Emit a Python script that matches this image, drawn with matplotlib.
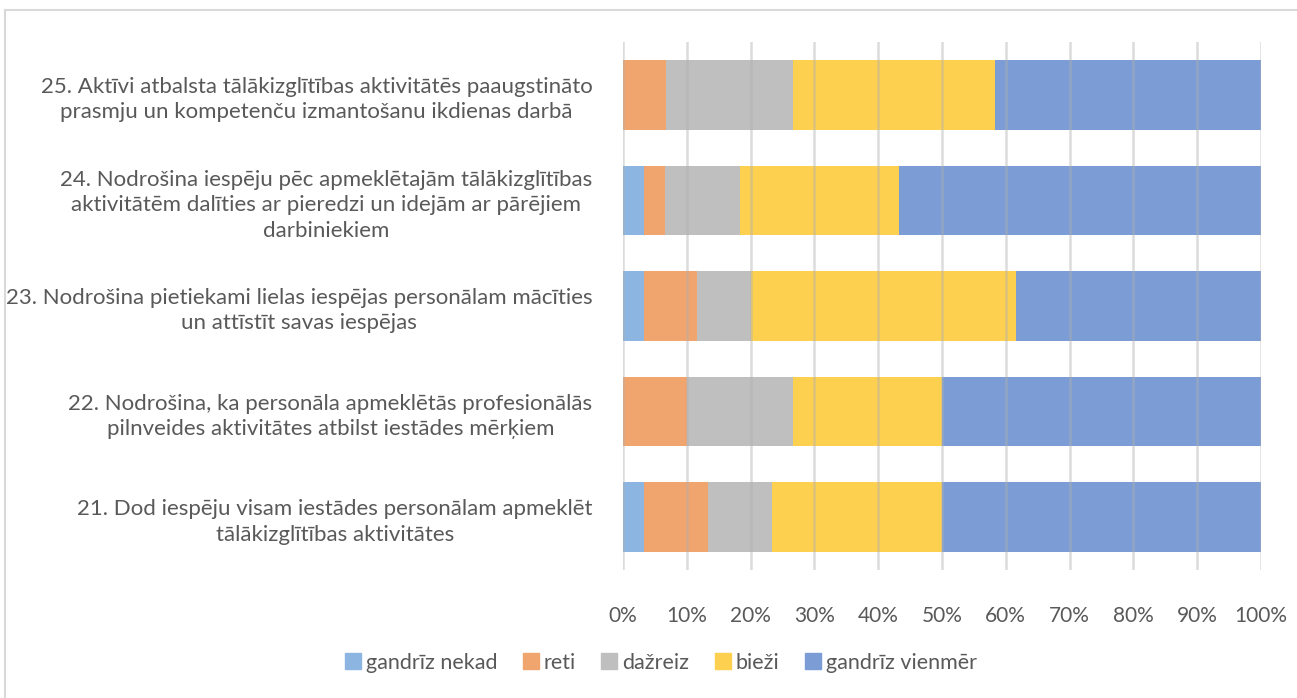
import matplotlib.pyplot as plt
import matplotlib as mpl
from matplotlib.lines import Line2D

mpl.rcParams['font.family'] = ['Lato', 'DejaVu Sans']

# data (share of answers, %)
questions = ['21. Dod iespēju visam iestādes personālam apmeklēt\ntālākizglītības aktivitātes',
             '22. Nodrošina, ka personāla apmeklētās profesionālās\npilnveides aktivitātes atbilst iestādes mērķiem',
             '23. Nodrošina pietiekami lielas iespējas personālam mācīties\nun attīstīt savas iespējas',
             '24. Nodrošina iespēju pēc apmeklētajām tālākizglītības\naktivitātēm dalīties ar pieredzi un idejām ar pārējiem\ndarbiniekiem',
             '25. Aktīvi atbalsta tālākizglītības aktivitātēs paaugstināto\nprasmju un kompetenču izmantošanu ikdienas darbā']
series = ['gandrīz nekad', 'reti', 'dažreiz', 'bieži', 'gandrīz vienmēr']
nekad = [3.33, 0, 3.33, 3.33, 0]
reti = [10.0, 10.0, 8.33, 3.33, 6.67]
dazreiz = [10.0, 16.67, 8.33, 11.67, 20.0]
biezi = [26.67, 23.33, 41.67, 25.0, 31.67]
vienmer = [50.0, 50.0, 38.33, 56.67, 41.67]
colors = ['#8DB5E2', '#F0A46E', '#BFBFBF', '#FDD14F', '#7B9CD4']

fig = plt.figure(figsize=(12.97, 6.98), dpi=100)
ax = fig.add_axes([623 / 1297, 1 - 570 / 698, 638 / 1297, 528 / 698])

left = [0] * len(questions)
for name, vals, c in zip(series, [nekad, reti, dazreiz, biezi, vienmer], colors):
    ax.barh(range(len(questions)), vals, left=left, height=0.66, color=c, label=name, zorder=1)
    left = [l + v for l, v in zip(left, vals)]

ax.set_xlim(0, 100)
ax.set_ylim(-0.5, len(questions) - 0.5)
ax.set_xticks(range(0, 101, 10))
ax.set_xticklabels([f'{t}%' for t in range(0, 101, 10)])
ax.set_yticks(range(len(questions)))
ax.set_yticklabels(questions, linespacing=1.34, fontsize=16)
for lab in ax.get_yticklabels():
    lab.set_multialignment('center')

for t in range(0, 101, 10):
    ax.axvline(t, color='#B0B0B0', alpha=0.45, linewidth=1.8, zorder=3)

for s in ax.spines.values():
    s.set_visible(False)
ax.tick_params(axis='both', length=0, labelcolor='#595959')
ax.tick_params(axis='x', pad=26, labelsize=15)
ax.tick_params(axis='y', pad=22)

handles = [Line2D([], [], marker='s', linestyle='', markersize=11, color=c) for c in colors]
fig.legend(handles, series, loc='center', bbox_to_anchor=(660 / 1297, 1 - 663 / 698), ncol=5,
           frameon=False, fontsize=15.5, labelcolor='#595959', handletextpad=0.15,
           columnspacing=1.1, handlelength=0.9)

# chart frame
fig.add_artist(Line2D([5 / 1297, 1.01], [1 - 10 / 698] * 2, color='#D9D9D9', linewidth=1.5,
                      transform=fig.transFigure))
fig.add_artist(Line2D([5 / 1297] * 2, [-0.01, 1 - 10 / 698], color='#D9D9D9', linewidth=1.5,
                      transform=fig.transFigure))

fig.savefig('out.png', dpi=100)
